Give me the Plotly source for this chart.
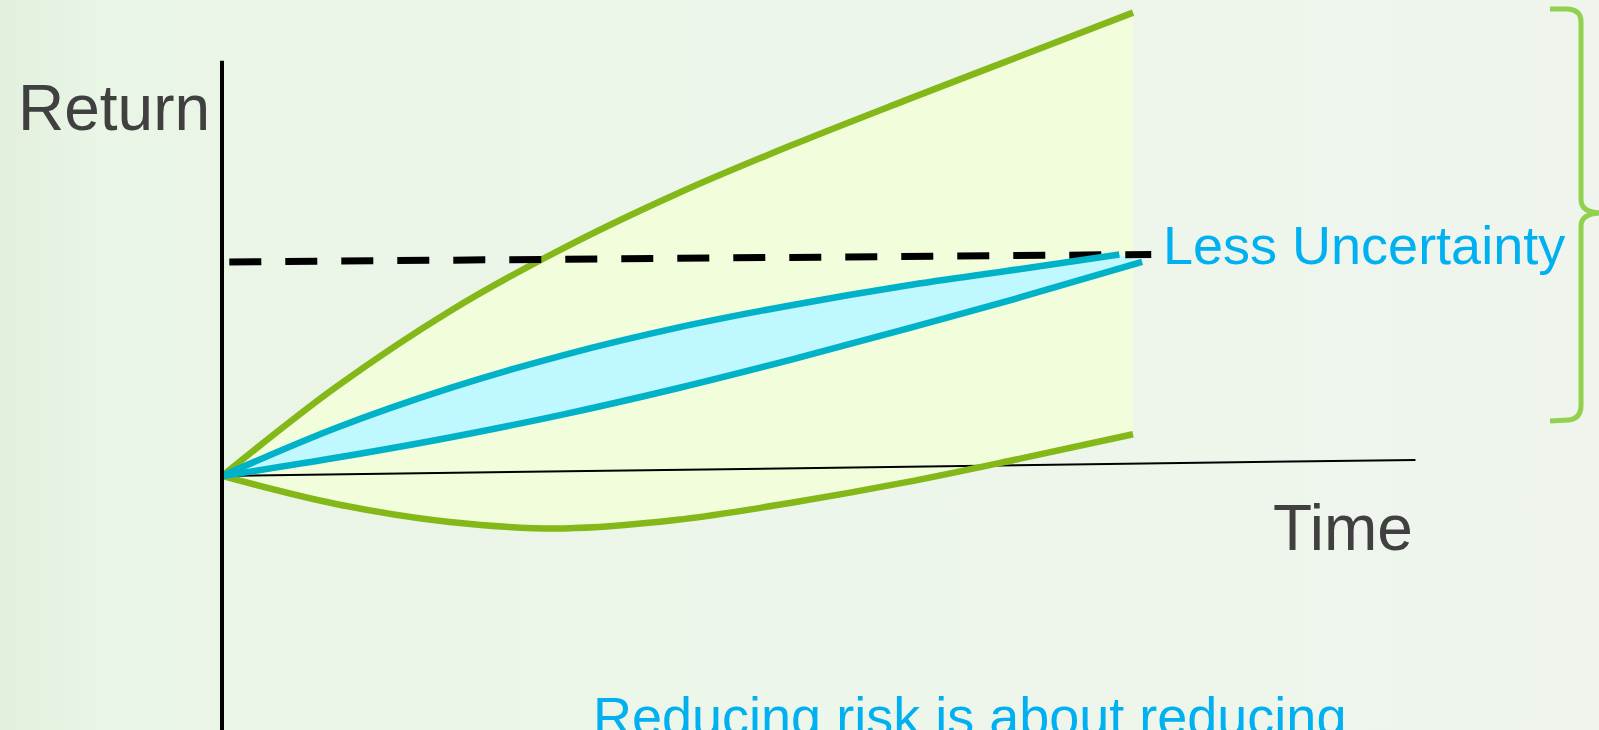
import plotly.graph_objects as go

# Time axis positions of the sampled points
time_pts = [0, 1.25, 2.5, 3.75, 5, 6.25, 7.5, 8.75, 10]

# Wide (high-uncertainty) envelope
wide_upper = [0, 4.15, 7.7, 10.65, 13.2, 15.45, 17.55, 19.6, 21.65]
wide_lower = [0, -1.31, -2.15, -2.45, -2.05, -1.25, -0.3, 0.8, 1.95]

# Narrow (less-uncertainty) envelope
narrow_upper_t = [0, 1.25, 2.5, 3.75, 5, 6.25, 7.5, 8.75, 9.85]
narrow_upper = [0, 2.24, 4.1, 5.65, 6.93, 7.98, 8.89, 9.66, 10.35]
narrow_lower_t = [0, 1.25, 2.5, 3.75, 5, 6.25, 7.5, 8.75, 10.1]
narrow_lower = [0, 0.85, 1.8, 2.88, 4.1, 5.44, 6.86, 8.33, 10.0]

# Target return (dashed) and axes
target_t = [0.08, 10.2]
target_r = [10.0, 10.35]
time_axis_t = [0, 13.1]
time_axis_r = [0, 0.75]
return_axis_t = [0, 0]
return_axis_r = [19.4, -12.5]

X_RANGE = [-2.437, 15.115]
Y_RANGE = [-11.87, 22.24]

GREEN = "#84B819"
CYAN = "#00B2C8"
BLUE_TEXT = "#00B0F0"
DARK_TEXT = "#404040"
FONT = "Liberation Sans, Arial, sans-serif"

fig = go.Figure()

# Soft background wash
fig.add_trace(go.Scatter(
    x=[X_RANGE[0], X_RANGE[1], X_RANGE[1], X_RANGE[0], X_RANGE[0]],
    y=[Y_RANGE[0], Y_RANGE[0], Y_RANGE[1], Y_RANGE[1], Y_RANGE[0]],
    mode="lines", line=dict(width=0), fill="toself",
    fillgradient=dict(type="horizontal",
                      colorscale=[[0, "#E3F0DD"], [0.06, "#E9F5E5"],
                                  [0.5, "#EDF6EA"], [1, "#EFF5ED"]]),
    hoverinfo="skip", showlegend=False))

# Wide envelope fill
fig.add_trace(go.Scatter(x=time_pts, y=wide_lower, mode="lines",
                         line=dict(width=0, shape="spline"),
                         hoverinfo="skip", showlegend=False))
fig.add_trace(go.Scatter(x=time_pts, y=wide_upper, mode="lines",
                         line=dict(width=0, shape="spline"),
                         fill="tonexty", fillcolor="#F2FEDB",
                         hoverinfo="skip", showlegend=False))

# Narrow envelope fill
fig.add_trace(go.Scatter(x=narrow_lower_t, y=narrow_lower, mode="lines",
                         line=dict(width=0, shape="spline"),
                         hoverinfo="skip", showlegend=False))
fig.add_trace(go.Scatter(x=narrow_upper_t, y=narrow_upper, mode="lines",
                         line=dict(width=0, shape="spline"),
                         fill="tonexty", fillcolor="#BFF8FF",
                         hoverinfo="skip", showlegend=False))

# Time axis
fig.add_trace(go.Scatter(x=time_axis_t, y=time_axis_r, mode="lines",
                         line=dict(color="black", width=2),
                         hoverinfo="skip", showlegend=False))

# Envelope outlines
for xs, ys, col in [(time_pts, wide_upper, GREEN), (time_pts, wide_lower, GREEN),
                    (narrow_lower_t, narrow_lower, CYAN)]:
    fig.add_trace(go.Scatter(x=xs, y=ys, mode="lines",
                             line=dict(color=col, width=6.5, shape="spline"),
                             hoverinfo="skip", showlegend=False))

# Target return
fig.add_trace(go.Scatter(x=target_t, y=target_r, mode="lines",
                         line=dict(color="black", width=7, dash="32px,24px"),
                         hoverinfo="skip", showlegend=False))

fig.add_trace(go.Scatter(x=narrow_upper_t, y=narrow_upper, mode="lines",
                         line=dict(color=CYAN, width=6.5, shape="spline"),
                         hoverinfo="skip", showlegend=False))

# Return axis
fig.add_trace(go.Scatter(x=return_axis_t, y=return_axis_r, mode="lines",
                         line=dict(color="black", width=4),
                         hoverinfo="skip", showlegend=False))

# Curly brace spanning the wide envelope's spread
brace = ("M 14.577 21.822 L 14.775 21.822 Q 14.918 21.776 14.918 21.215 "
         "L 14.918 12.897 Q 14.918 12.336 15.126 12.290 "
         "Q 14.918 12.243 14.918 11.682 L 14.918 3.318 "
         "Q 14.918 2.664 14.775 2.617 L 14.577 2.570")
fig.add_shape(type="path", path=brace, xref="x", yref="y",
              line=dict(color="#92D050", width=5))

annos = [
    dict(text="Return", x=16 / 1599, y=1 - 108 / 730, xanchor="left",
         font=dict(size=64, color=DARK_TEXT)),
    dict(text="Time", x=1271 / 1599, y=1 - 528 / 730, xanchor="left",
         font=dict(size=64, color=DARK_TEXT)),
    dict(text="Less Uncertainty", x=1161 / 1599, y=1 - 245 / 730, xanchor="left",
         font=dict(size=54, color=BLUE_TEXT)),
    dict(text="Reducing risk is about reducing", x=969 / 1599, y=1 - 716 / 730,
         xanchor="center", font=dict(size=54, color=BLUE_TEXT)),
]
for a in annos:
    fig.add_annotation(xref="paper", yref="paper", yanchor="middle",
                       showarrow=False, **{k: v for k, v in a.items() if k != "font"},
                       font=dict(family=FONT, **a["font"]))

fig.update_xaxes(range=X_RANGE, visible=False, fixedrange=True)
fig.update_yaxes(range=Y_RANGE, visible=False, fixedrange=True)
fig.update_layout(width=1599, height=730, autosize=False,
                  margin=dict(l=0, r=0, t=0, b=0, pad=0),
                  paper_bgcolor="#EDF6EA", plot_bgcolor="#EDF6EA",
                  showlegend=False)

fig.write_html("out.html", config={"displayModeBar": False})
